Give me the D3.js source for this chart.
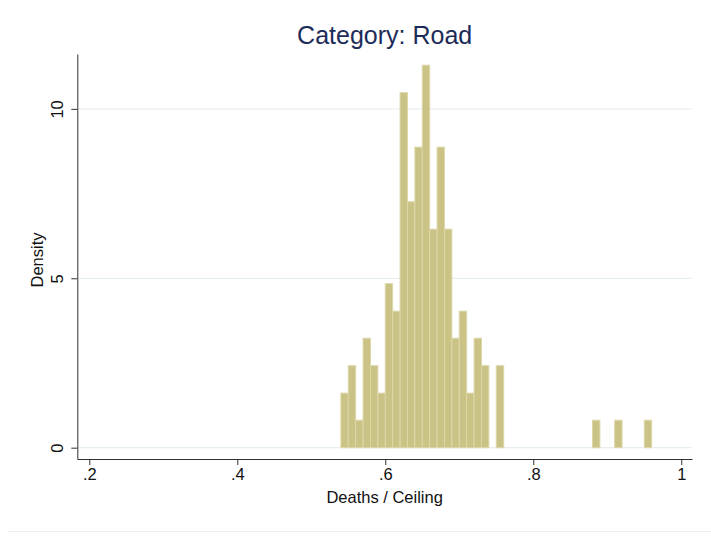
<!DOCTYPE html>
<meta charset="utf-8">
<style>
  body { margin: 0; background: #fff; }
  svg text { font-family: "Liberation Sans", Arial, Helvetica, sans-serif; fill: #111; }
  .grid line { stroke: #e8eff1; stroke-width: 1.2; }
  .axis path, .axis line { stroke: #333; stroke-width: 1; }
  .bars rect { fill: #cac385; stroke: #dcd7a9; stroke-width: 1; }
  .title { fill: #1c2b58; font-size: 25px; }
</style>
<body>
<div id="chart"></div>
<script src="https://d3js.org/d3.v7.min.js"></script>
<script>
var width = 711;
var height = 538;

// histogram bins (left edges step by binWidth from binStart)
var binStart = 0.54;
var binWidth = 0.01;
var density = [1.61, 2.42, 0.81, 3.23, 2.42, 1.61, 4.84, 4.03, 10.48, 7.26,
               8.87, 11.29, 6.45, 8.87, 6.45, 3.23, 4.03, 1.61, 3.23, 2.42,
               0, 2.42, 0, 0, 0, 0, 0, 0, 0, 0,
               0, 0, 0, 0, 0.81, 0, 0, 0.81, 0, 0,
               0, 0.81];

var xTicks = [0.2, 0.4, 0.6, 0.8, 1];
var xTickLabels = ['.2', '.4', '.6', '.8', '1'];
var yTicks = [0, 5, 10];

var x = d3.scaleLinear().domain([0.1838, 1.0145]).range([77.3, 692]);
var y = d3.scaleLinear().domain([-0.334, 11.62]).range([459, 54]);

var svg = d3.select('#chart').append('svg')
    .attr('width', width)
    .attr('height', height);

// faint outer line near the bottom
svg.append('line')
    .attr('x1', 8).attr('x2', width)
    .attr('y1', 531.5).attr('y2', 531.5)
    .attr('stroke', '#eeeeee');

svg.append('g')
    .attr('class', 'grid')
  .selectAll('line')
    .data(yTicks)
    .enter().append('line')
    .attr('x1', x.range()[0])
    .attr('x2', x.range()[1])
    .attr('y1', function (d) { return y(d); })
    .attr('y2', function (d) { return y(d); });

var bins = density.map(function (d, i) {
  return { x0: binStart + i * binWidth, x1: binStart + (i + 1) * binWidth, v: d };
}).filter(function (d) { return d.v > 0; });

svg.append('g')
    .attr('class', 'bars')
  .selectAll('rect')
    .data(bins)
    .enter().append('rect')
    .attr('x', function (d) { return x(d.x0); })
    .attr('width', function (d) { return x(d.x1) - x(d.x0); })
    .attr('y', function (d) { return y(d.v); })
    .attr('height', function (d) { return y(0) - y(d.v); });

var xAxis = svg.append('g')
    .attr('class', 'axis')
    .attr('transform', 'translate(0,459)')
    .call(d3.axisBottom(x)
      .tickValues(xTicks)
      .tickFormat(function (d, i) { return xTickLabels[i]; })
      .tickSizeInner(6)
      .tickSizeOuter(0)
      .tickPadding(3));
xAxis.selectAll('text').style('font-size', '16.5px').attr('fill', '#111');

var yAxis = svg.append('g')
    .attr('class', 'axis')
    .attr('transform', 'translate(77.3,0)')
    .call(d3.axisLeft(y)
      .tickValues(yTicks)
      .tickSizeInner(6)
      .tickSizeOuter(0)
      .tickPadding(4));
yAxis.selectAll('text')
    .style('font-size', '16.5px')
    .attr('fill', '#111')
    .attr('text-anchor', 'middle')
    .attr('dy', 0)
    .attr('x', 0)
    .attr('transform', function () {
      return 'translate(-14,0) rotate(-90)';
    });

svg.append('text')
    .attr('x', (x.range()[0] + x.range()[1]) / 2)
    .attr('y', 503)
    .attr('text-anchor', 'middle')
    .style('font-size', '16.5px')
    .text('Deaths / Ceiling');

svg.append('text')
    .attr('transform', 'translate(43,260) rotate(-90)')
    .attr('text-anchor', 'middle')
    .style('font-size', '16.5px')
    .text('Density');

svg.append('text')
    .attr('class', 'title')
    .attr('x', (x.range()[0] + x.range()[1]) / 2)
    .attr('y', 44)
    .attr('text-anchor', 'middle')
    .text('Category: Road');
</script>
</body>
